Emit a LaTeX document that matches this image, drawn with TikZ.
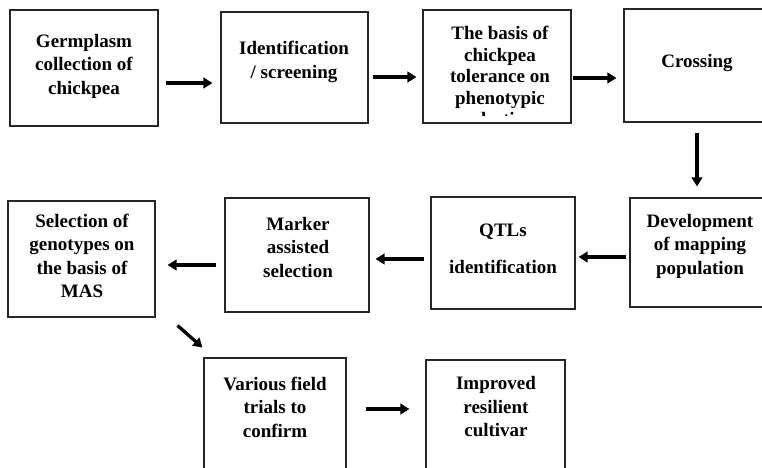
\documentclass[tikz,border=0pt]{standalone}
\usepackage{fontspec}
\setmainfont{Liberation Serif}
\usetikzlibrary{arrows.meta}
\begin{document}
\begin{tikzpicture}[x=1pt,y=-1pt,
  box/.style={draw=black!85,line width=1.1pt,minimum width=#1,inner sep=0pt},
  boxtext/.style={align=center,font=\fontsize{19}{23.5}\selectfont\bfseries,inner sep=0pt},
  arr/.style={line width=3.3pt,-{Triangle[length=9pt,width=10.5pt]}}]
\clip (0,0) rectangle (762,467);
\fill[white] (0,0) rectangle (762,467);
% boxes
\node[box=148pt,minimum height=116pt] (b1) at (84,68) {};
\node[box=147pt,minimum height=111pt] (b2) at (294.5,67.5) {};
\node[box=148pt,minimum height=113pt] (b3) at (497,66.5) {};
\node[box=151pt,minimum height=113pt] (b4) at (699.5,65.5) {};
\node[box=145pt,minimum height=109pt] (b5) at (702.5,252.5) {};
\node[box=144pt,minimum height=112pt] (b6) at (503,253) {};
\node[box=144pt,minimum height=114pt] (b7) at (297,255) {};
\node[box=147pt,minimum height=116pt] (b8) at (81.5,259) {};
\node[box=142pt,minimum height=122pt] (b9) at (275,419) {};
\node[box=139pt,minimum height=120pt] (b10) at (495.5,420) {};
% texts
\node[boxtext] (t1) at (84,66) {Germplasm\\collection of\\chickpea};
\node[boxtext] (t2) at (294,62) {Identification\\/ screening};
\begin{scope}
\clip (424,11) rectangle (570,115.5);
\node[boxtext,font=\fontsize{19}{21.5}\selectfont\bfseries] (t3) at (500,76) {The basis of\\chickpea\\tolerance on\\phenotypic\\selection};
\end{scope}
\node[boxtext] (t4) at (697,63) {Crossing};
\node[boxtext] (t5) at (700,246) {Development\\of mapping\\population};
\node[boxtext,font=\fontsize{19}{37}\selectfont\bfseries] (t6) at (503,248.5) {QTLs\\identification};
\node[boxtext] (t7) at (298,247) {Marker\\assisted\\selection};
\node[boxtext] (t8) at (82,256) {Selection of\\genotypes on\\the basis of\\MAS};
\node[boxtext] (t9) at (275,407) {Various field\\trials to\\confirm};
\node[boxtext] (t10) at (496,407) {Improved\\resilient\\cultivar};
% arrows
\draw[arr] ([xshift=7pt,yshift=-15pt]b1.east) -- ([xshift=-8pt,yshift=-15.5pt]b2.west);
\draw[arr] ([xshift=4pt,yshift=-9.5pt]b2.east) -- ([xshift=-6pt,yshift=-10.5pt]b3.west);
\draw[arr] ([xshift=1pt,yshift=-11.5pt]b3.east) -- ([xshift=-7pt,yshift=-12.5pt]b4.west);
\draw[arr] ([xshift=-2.5pt,yshift=-10pt]b4.south) -- ([xshift=-5.5pt,yshift=11pt]b5.north);
\draw[arr] ([xshift=-3pt,yshift=-4.5pt]b5.west) -- ([xshift=3pt,yshift=-4pt]b6.east);
\draw[arr] ([xshift=-6pt,yshift=-6pt]b6.west) -- ([xshift=6pt,yshift=-4pt]b7.east);
\draw[arr] ([xshift=-8pt,yshift=-10pt]b7.west) -- ([xshift=12pt,yshift=-6pt]b8.east);
\draw[arr] ([xshift=22pt,yshift=-8pt]b8.south east) -- ([xshift=-1pt,yshift=10pt]b9.north west);
\draw[arr] ([xshift=19pt,yshift=10pt]b9.east) -- ([xshift=-16pt,yshift=11pt]b10.west);
\end{tikzpicture}
\end{document}
